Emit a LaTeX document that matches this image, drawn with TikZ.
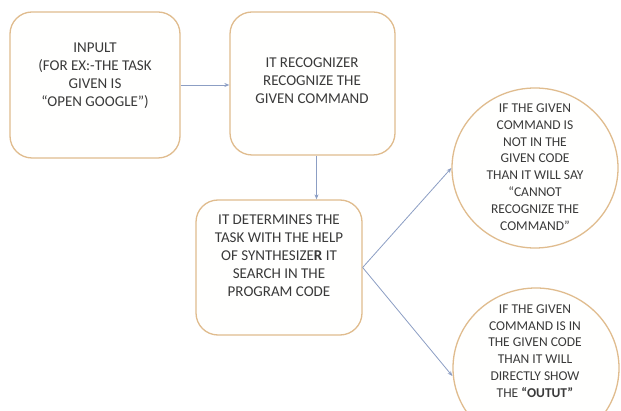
\documentclass[tikz,border=0pt]{standalone}
\usepackage{fontspec}
\setmainfont{Carlito}
\usetikzlibrary{arrows.meta,shapes.geometric}
\definecolor{edgetan}{RGB}{224,188,142}
\definecolor{fillcream}{RGB}{255,255,254}
\definecolor{txtgray}{RGB}{58,58,58}
\definecolor{arrowblue}{RGB}{140,158,196}
\tikzset{
  rbox/.style={draw=edgetan, fill=fillcream, line width=1.3pt, rounded corners=22pt, inner sep=0pt},
  oval/.style={ellipse, draw=edgetan, fill=fillcream, line width=1.3pt, inner sep=0pt, minimum width=166pt, minimum height=160pt},
  boxtext/.style={align=center, text=txtgray, font=\fontsize{15}{18}\selectfont, inner sep=0pt},
  ovaltext/.style={align=center, text=txtgray, font=\fontsize{13.5}{16.8}\selectfont, inner sep=0pt},
  conn/.style={draw=arrowblue, line width=0.8pt, -{Stealth[length=5pt,width=4pt]}}
}
\begin{document}
\begin{tikzpicture}[x=1pt,y=-1pt]
\useasboundingbox (0,0) rectangle (621,411);
\clip (0,0) rectangle (621,411);
\fill[white] (0,0) rectangle (621,411);
% boxes
\node[rbox, minimum width=170pt, minimum height=146pt] (b1) at (95,85) {};
\node[rbox, minimum width=165pt, minimum height=143pt] (b2) at (312.5,83.5) {};
\node[rbox, minimum width=166pt, minimum height=135pt] (b3) at (279,267.5) {};
\node[oval] (e1) at (535,168) {};
\node[oval] (e2) at (536,368) {};
% texts
\node[boxtext] (t1) at (95,76) {INPULT\\(FOR EX:-THE TASK\\GIVEN IS\\``OPEN GOOGLE'')};
\node[boxtext] (t2) at (312,81) {IT RECOGNIZER\\RECOGNIZE THE\\GIVEN COMMAND};
\node[boxtext] (t3) at (279,256) {IT DETERMINES THE\\TASK WITH THE HELP\\OF SYNTHESIZE\textbf{R} IT\\SEARCH IN THE\\PROGRAM CODE};
\node[ovaltext] (t4) at (535,167) {IF THE GIVEN\\COMMAND IS\\NOT IN THE\\GIVEN CODE\\THAN IT WILL SAY\\``CANNOT\\RECOGNIZE THE\\COMMAND''};
\node[ovaltext] (t5) at (535,351) {IF THE GIVEN\\COMMAND IS IN\\THE GIVEN CODE\\THAN IT WILL\\DIRECTLY SHOW\\THE \textbf{``OUTUT''}};
% connectors
\draw[conn] (b1.east) -- (b2.west |- b1.east);
\draw[conn] ([xshift=4pt]b2.south) -- ([xshift=4pt]b2.south |- b3.north);
\draw[conn] (b3.east) -- (e1.west);
\draw[conn] (b3.east) -- ([yshift=-8pt]e2.west);
\end{tikzpicture}
\end{document}
